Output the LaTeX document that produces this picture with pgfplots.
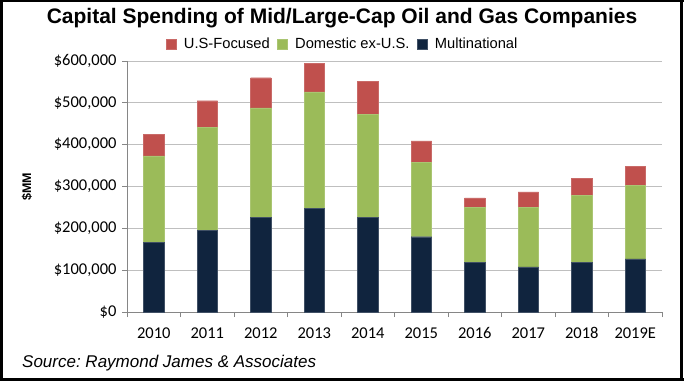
\documentclass[border=0pt]{standalone}
\usepackage{pgfplots}
\pgfplotsset{compat=1.18}
\usepackage{fontspec}
\setmainfont{Liberation Sans}
\newfontfamily\carlito{Carlito}
\definecolor{usred}{HTML}{C0504D}
\definecolor{domgreen}{HTML}{9BBB59}
\definecolor{multinavy}{HTML}{10243E}
\definecolor{axisgray}{HTML}{868686}
\definecolor{gridgray}{HTML}{BFBFBF}
\frenchspacing
\begin{document}
\begin{tikzpicture}[x=1pt,y=1pt]
\useasboundingbox (0,0) rectangle (684,381);
\fill[white] (0,0) rectangle (684,381);
% frame
\fill[black] (0,379.3) rectangle (684,381);
\fill[black] (0,0) rectangle (2.7,381);
\fill[black] (680,0) rectangle (683,381);
\fill[black] (0,0) rectangle (684,3.5);
\node[font=\bfseries\fontsize{21}{25}\selectfont] at (342,363) {Capital Spending of Mid/Large-Cap Oil and Gas Companies};
\node[anchor=west, font=\itshape\fontsize{17}{20}\selectfont, inner sep=0pt] at (22,18) {Source: Raymond James \& Associates};
\node[rotate=90, font=\bfseries\fontsize{12.5}{14}\selectfont] at (27,194) {\$MM};
\begin{axis}[
  at={(127pt,69pt)}, anchor=south west,
  scale only axis, width=535pt, height=251pt,
  ybar stacked, bar width=20.5pt,
  xmin=-0.5, xmax=9.5, ymin=0, ymax=600000,
  axis x line*=bottom, axis y line*=left,
  axis line style={-, draw=axisgray, line width=0.8pt},
  tick align=outside, major tick length=5pt,
  tick style={draw=axisgray, line width=0.8pt},
  xtick={-0.5,0.5,...,9.5}, xticklabels={},
  extra x ticks={0,1,2,3,4,5,6,7,8,9},
  extra x tick labels={2010,2011,2012,2013,2014,2015,2016,2017,2018,2019E},
  extra x tick style={major tick length=0pt, grid=none, xticklabel style={yshift=-12pt}},
  ytick={0,100000,200000,300000,400000,500000,600000},
  scaled y ticks=false,
  /pgf/number format/.cd, fixed, 1000 sep={,}, assume math mode=true, /pgfplots/.cd,
  yticklabel={\$\pgfmathprintnumber{\tick}},
  yticklabel style={xshift=-2pt},
  ticklabel style={font=\carlito\fontsize{16.5}{18}\selectfont},
  ymajorgrids, grid style={draw=gridgray, line width=0.8pt},
  reverse legend,
  legend columns=-1,
  legend style={at={(0.5,1)}, anchor=south, xshift=-52pt, yshift=7pt, draw=none, fill=none,
    font=\fontsize{14.7}{16}\selectfont, column sep=6pt,
    /tikz/every even column/.append style={column sep=5pt}},
  legend image code/.code={\fill[#1] (0pt,-5pt) rectangle (10pt,5pt);},
]
\addplot[fill=multinavy, draw=multinavy!80!white] coordinates {(0,166000) (1,195000) (2,227000) (3,247000) (4,227000) (5,180000) (6,119000) (7,108000) (8,119000) (9,127000)};
\addplot[fill=domgreen, draw=domgreen!85!white] coordinates {(0,207000) (1,246000) (2,261000) (3,279000) (4,246000) (5,177000) (6,131000) (7,142000) (8,160000) (9,175000)};
\addplot[fill=usred, draw=usred!85!white] coordinates {(0,51000) (1,64000) (2,72000) (3,68000) (4,78000) (5,52000) (6,23000) (7,37000) (8,40000) (9,46000)};
\legend{Multinational, Domestic ex-U.S., U.S-Focused}
\end{axis}
\end{tikzpicture}
\end{document}
